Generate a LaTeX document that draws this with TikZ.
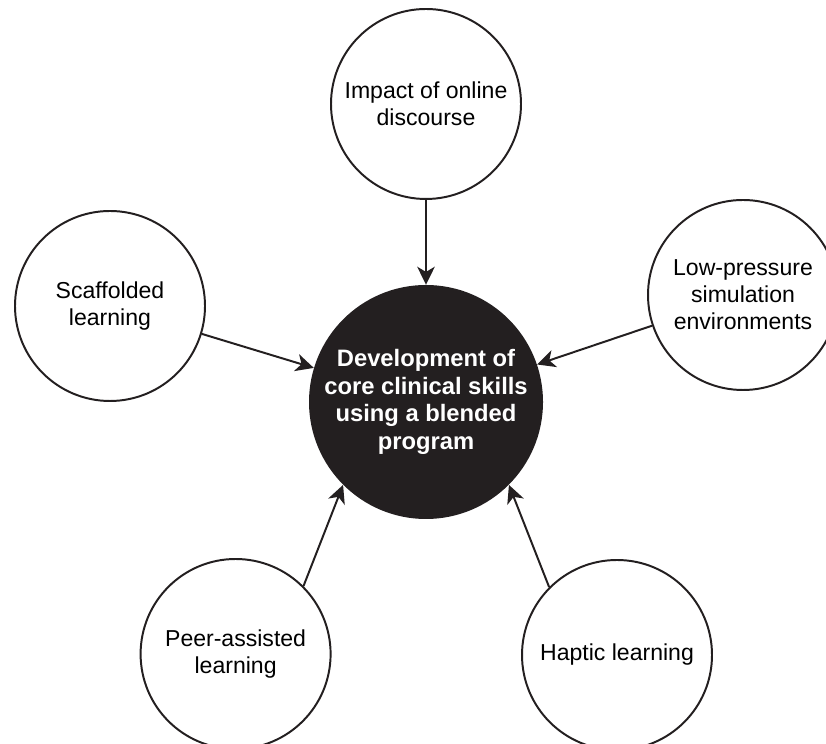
\documentclass[tikz,border=0pt]{standalone}
\usepackage{fontspec}
\setmainfont{Liberation Sans}
\usetikzlibrary{arrows.meta}
\definecolor{ink}{HTML}{231F20}

\begin{document}
\begin{tikzpicture}[
	factor/.style={circle,draw=ink,line width=1.4pt,minimum size=4.75cm,inner sep=0pt,align=center,
		font=\fontsize{16.4}{19.2}\selectfont},
	core/.style={circle,fill=ink,text=white,minimum size=5.85cm,inner sep=0pt,align=center,
		font=\bfseries\fontsize{16.9}{19.6}\selectfont},
	link/.style={draw=ink,line width=1.4pt,-{Stealth[length=0.45cm,width=0.44cm,inset=0.13cm]}}]
	\useasboundingbox (0,0) rectangle (20.65,18.6);
	% central node
	\node[core] (core) at (10.65,8.55) {Development of\\core clinical skills\\using a blended\\program};
	% surrounding factors
	\node[factor] (online) at (10.65,16.0) {Impact of online\\discourse};
	\node[factor] (scaffold) at (2.75,10.95) {Scaffolded\\learning};
	\node[factor] (lowpress) at (18.575,11.225) {Low-pressure\\simulation\\environments};
	\node[factor] (peer) at (5.89,2.25) {Peer-assisted\\learning};
	\node[factor] (haptic) at (15.425,2.225) {Haptic learning};
	% arrows into the centre
	\draw[link] (online) -- (core);
	\draw[link] (scaffold) -- (core);
	\draw[link] (lowpress) -- (core);
	\draw[link] (peer.north east) -- (core.south west);
	\draw[link] (haptic.north west) -- (core.south east);
\end{tikzpicture}
\end{document}
